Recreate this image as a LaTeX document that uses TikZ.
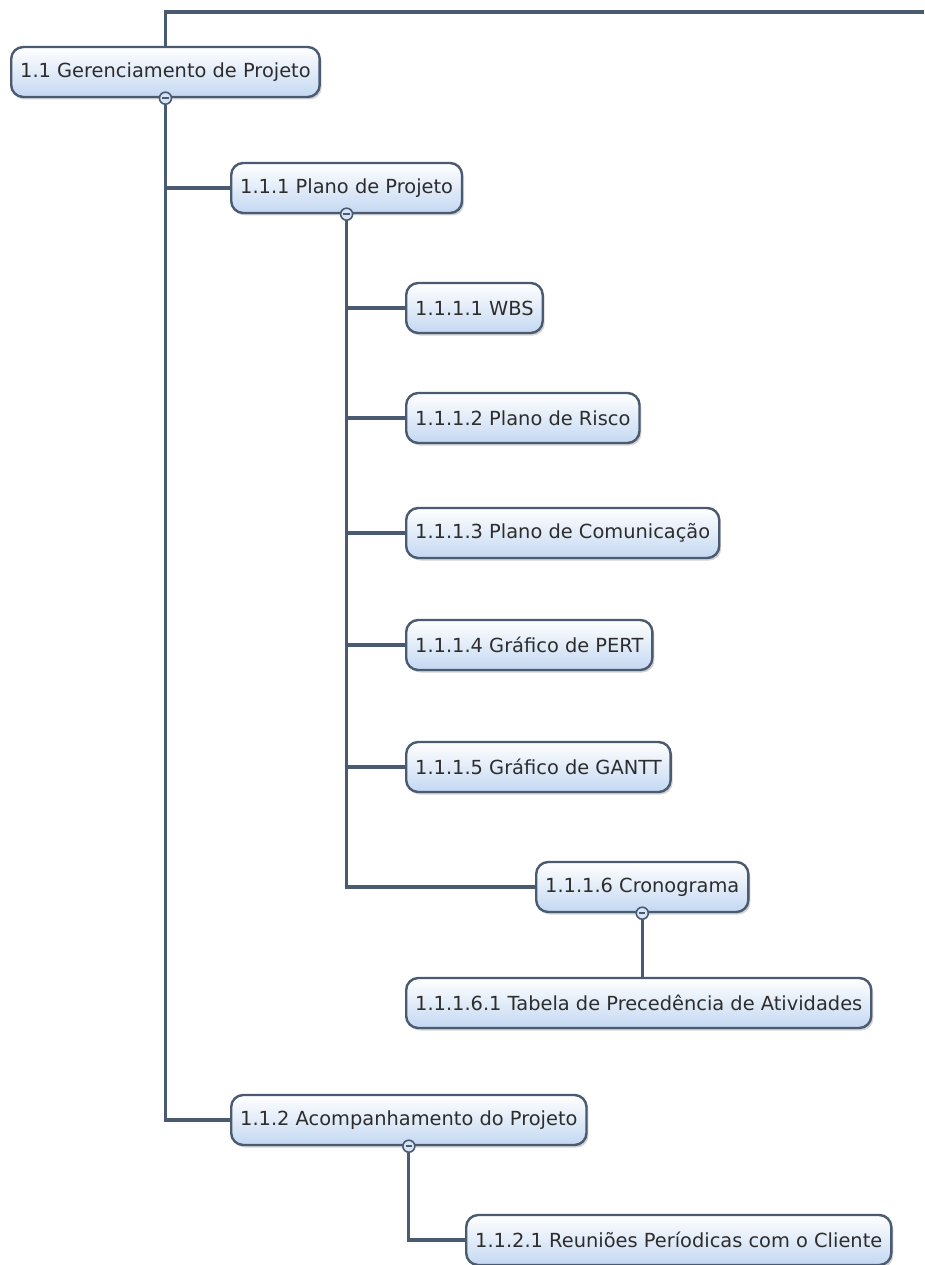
\documentclass[tikz,border=0pt]{standalone}
\usepackage{fontspec}
\setmainfont{DejaVu Sans}
\usetikzlibrary{positioning, backgrounds, shadows}
\definecolor{edge}{RGB}{74,90,112}
\definecolor{boxbot}{RGB}{196,216,242}
\definecolor{txt}{RGB}{45,45,45}

\begin{document}
\begin{tikzpicture}[x=1pt, y=-1pt,
  font=\fontsize{19.4}{22}\selectfont,
  item/.style={rectangle, rounded corners=12pt, draw=edge, line width=2.4pt,
               top color=white, bottom color=boxbot, text=txt, anchor=west,
               minimum height=50pt, inner xsep=9pt,
               drop shadow={shadow xshift=2pt, shadow yshift=-2.5pt, opacity=0.35}},
  fold/.style={circle, draw=edge, line width=1.6pt, fill=boxbot!70, inner sep=0pt,
               minimum size=12pt,
               path picture={\draw[edge, line width=1.5pt]
                 ([xshift=-3.2pt]path picture bounding box.center) --
                 ([xshift=3.2pt]path picture bounding box.center);}},
  link/.style={draw=edge, line width=3.2pt}]
  \useasboundingbox (0,0) rectangle (924,1265);
  \node[item] (n11) at (10,72) {1.1 Gerenciamento de Projeto};
  \node[item] (n111) at (230,188) {1.1.1 Plano de Projeto};
  \node[item] (n1111) at (405,308) {1.1.1.1 WBS};
  \node[item] (n1112) at (405,418) {1.1.1.2 Plano de Risco};
  \node[item] (n1113) at (405,533) {1.1.1.3 Plano de Comunicação};
  \node[item] (n1114) at (405,645) {1.1.1.4 Gráfico de PERT};
  \node[item] (n1115) at (405,767) {1.1.1.5 Gráfico de GANTT};
  \node[item] (n1116) at (535,887) {1.1.1.6 Cronograma};
  \node[item] (n11161) at (405,1003) {1.1.1.6.1 Tabela de Precedência de Atividades};
  \node[item] (n112) at (230,1120) {1.1.2 Acompanhamento do Projeto};
  \node[item] (n1121) at (465,1240) {1.1.2.1 Reuniões Períodicas com o Cliente};
  \coordinate (topend) at (924,12);
  \node[fold] (f11) at (n11.south) {};
  \node[fold] (f111) at (n111.south) {};
  \node[fold] (f1116) at (n1116.south) {};
  \node[fold] (f112) at (n112.south) {};
  \begin{scope}[on background layer]
    \draw[link] (n11.north) |- (topend);
    \draw[link] (f11) |- (n111.west);
    \draw[link] (f11) |- (n112.west);
    \foreach \k in {n1111, n1112, n1113, n1114, n1115, n1116}
      \draw[link] (f111) |- (\k.west);
    \draw[link] (f1116) -- (f1116 |- n11161.north);
    \draw[link] (f112) |- (n1121.west);
  \end{scope}
\end{tikzpicture}
\end{document}
